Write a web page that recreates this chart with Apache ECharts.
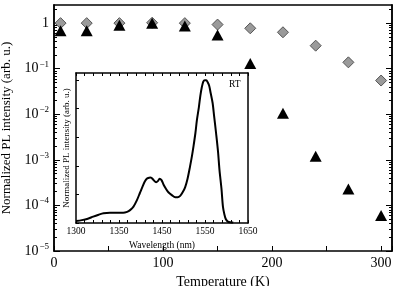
<!DOCTYPE html>
<html>
<head>
<meta charset="utf-8">
<script src="https://cdn.jsdelivr.net/npm/echarts@6/dist/echarts.min.js"></script>
<style>
html, body { margin: 0; padding: 0; background: #fff; }
#chart { width: 396px; height: 286px; }
</style>
</head>
<body>
<div id="chart"></div>
<script>
// main plot: normalized PL intensity vs temperature
var temps = [6, 30, 60, 90, 120, 150, 180, 210, 240, 270, 300];
var diamondVals = [1.0, 1.0, 1.0, 1.02, 1.0, 0.93, 0.77, 0.63, 0.32, 0.138, 0.055];
var triangleVals = [0.68, 0.68, 0.9, 1.0, 0.86, 0.55, 0.13, 0.0105, 0.0012, 0.00023, 0.00006];

// inset: RT spectrum
var wavelengths = [1300, 1312, 1324, 1335, 1346, 1356, 1369, 1382, 1396, 1404, 1410, 1417, 1424, 1430, 1436, 1440, 1444, 1447, 1451, 1454, 1458, 1463, 1467, 1470, 1474, 1478, 1483, 1488, 1495, 1502, 1507, 1512, 1517, 1522, 1527, 1532, 1536, 1539, 1543, 1546, 1550, 1553, 1556, 1559, 1562, 1565, 1568, 1571, 1574, 1578, 1581, 1585, 1589, 1592, 1596, 1599, 1602, 1605, 1609, 1614, 1620];
var spectrum = [0.014, 0.02, 0.03, 0.045, 0.058, 0.068, 0.072, 0.072, 0.072, 0.078, 0.09, 0.115, 0.16, 0.21, 0.26, 0.29, 0.31, 0.315, 0.318, 0.315, 0.3, 0.285, 0.295, 0.31, 0.3, 0.27, 0.24, 0.215, 0.195, 0.18, 0.18, 0.19, 0.215, 0.25, 0.31, 0.395, 0.47, 0.535, 0.63, 0.72, 0.81, 0.89, 0.95, 0.99, 1.0, 1.0, 0.985, 0.96, 0.91, 0.84, 0.75, 0.63, 0.5, 0.37, 0.24, 0.115, 0.06, 0.026, 0.01, 0.005, 0.003];
var insetTickLabels = ['1300', '1350', '1450', '1550', '1650'];

var FONT = 'Liberation Serif';

var decades = [1e-5, 1e-4, 1e-3, 1e-2, 1e-1, 1];
var minorLog = [];
decades.forEach(function (d) {
    for (var k = 2; k <= 9; k++) {
        if (d * k < 2.5) minorLog.push(d * k);
    }
});

var insetLabelVals = [], insetTickVals = [];
for (var i = 0; i <= 20; i++) {
    insetTickVals.push(1300 + 17.5 * i);
    if (i % 5 === 0) insetLabelVals.push(1300 + 17.5 * i);
}

var logLabel = function (v) {
    var e = Math.round(Math.log10(v));
    if (e === 0) return '{b|1}';
    return '{b|10}{s|\u2212' + (-e) + '}';
};

var logAxis = function (pos, ticks, len, showLabel) {
    return {
        type: 'log', gridIndex: 0, position: pos, min: 1e-5, max: 2.5,
        axisLine: {show: true, lineStyle: {color: '#000', width: 1.5}},
        axisTick: {show: true, inside: true, length: len, customValues: ticks, lineStyle: {color: '#000', width: 1}},
        minorTick: {show: false},
        splitLine: {show: false},
        axisLabel: showLabel ? {
            customValues: decades, formatter: logLabel, margin: 5,
            rich: {
                b: {fontFamily: FONT, fontSize: 14, color: '#000'},
                s: {fontFamily: FONT, fontSize: 9, color: '#000', verticalAlign: 'top', padding: [0, 0, 9, 1]}
            }
        } : {show: false}
    };
};

var mainY = logAxis('left', decades, 6, true);
mainY.name = 'Normalized PL intensity (arb. u.)';
mainY.nameLocation = 'middle';
mainY.nameGap = 34;
mainY.nameTextStyle = {fontFamily: FONT, fontSize: 13, color: '#000'};

var chart = echarts.init(document.getElementById('chart'));

chart.setOption({
    animation: false,
    backgroundColor: '#fff',
    grid: [
        {left: 54, top: 5, right: 4, bottom: 35, outerBoundsMode: 'none', containLabel: false},
        {left: 76, top: 73, right: 148, bottom: 63, outerBoundsMode: 'none', containLabel: false,
         show: true, backgroundColor: '#fff', borderWidth: 0}
    ],
    xAxis: [
        {
            type: 'value', gridIndex: 0, min: 0, max: 310, interval: 50, position: 'bottom',
            name: 'Temperature (K)', nameLocation: 'middle', nameGap: 19,
            nameTextStyle: {fontFamily: FONT, fontSize: 14, color: '#000'},
            axisLine: {show: true, onZero: false, lineStyle: {color: '#000', width: 1.5}},
            axisTick: {show: true, inside: true, length: 5, lineStyle: {color: '#000'}},
            splitLine: {show: false},
            axisLabel: {
                fontFamily: FONT, fontSize: 14, color: '#000', margin: 5,
                formatter: function (v) { return v % 100 === 0 ? String(v) : ''; }
            }
        },
        {
            type: 'value', gridIndex: 0, min: 0, max: 310, position: 'top',
            axisLine: {show: true, onZero: false, lineStyle: {color: '#000', width: 1.5}},
            axisTick: {show: false}, axisLabel: {show: false}, splitLine: {show: false}
        },
        {
            type: 'value', gridIndex: 1, min: 1300, max: 1650, position: 'bottom',
            name: 'Wavelength (nm)', nameLocation: 'middle', nameGap: 14,
            nameTextStyle: {fontFamily: FONT, fontSize: 9.5, color: '#000'},
            axisLine: {show: true, onZero: false, lineStyle: {color: '#000', width: 1.5}},
            axisTick: {show: true, inside: true, length: 3, customValues: insetTickVals, lineStyle: {color: '#000'}},
            splitLine: {show: false},
            axisLabel: {
                fontFamily: FONT, fontSize: 9.5, color: '#000', margin: 3,
                customValues: insetLabelVals,
                formatter: function (v) { return insetTickLabels[Math.round((v - 1300) / 87.5)]; }
            }
        },
        {
            type: 'value', gridIndex: 1, min: 1300, max: 1650, position: 'top',
            axisLine: {show: true, onZero: false, lineStyle: {color: '#000', width: 1.5}},
            axisTick: {show: true, inside: true, length: 3, customValues: insetTickVals, lineStyle: {color: '#000'}},
            axisLabel: {show: false}, splitLine: {show: false}
        }
    ],
    yAxis: [
        mainY,
        logAxis('left', minorLog, 3, false),
        logAxis('right', decades, 6, false),
        logAxis('right', minorLog, 3, false),
        {
            type: 'value', gridIndex: 1, min: 0, max: 1.05, position: 'left',
            name: 'Normalized PL intensity (arb. u.)', nameLocation: 'middle', nameGap: 5,
            nameTextStyle: {fontFamily: FONT, fontSize: 9, color: '#000'},
            axisLine: {show: true, onZero: false, lineStyle: {color: '#000', width: 1.5}},
            axisTick: {show: true, inside: true, length: 3, customValues: [0, 0.2, 0.4, 0.6, 0.8, 1.0], lineStyle: {color: '#000'}},
            axisLabel: {show: false}, splitLine: {show: false}
        },
        {
            type: 'value', gridIndex: 1, min: 0, max: 1.05, position: 'right',
            axisLine: {show: true, onZero: false, lineStyle: {color: '#000', width: 1.5}},
            axisTick: {show: false}, axisLabel: {show: false}, splitLine: {show: false}
        }
    ],
    series: [
        {
            type: 'scatter', xAxisIndex: 0, yAxisIndex: 0, symbol: 'diamond', symbolSize: [11, 11],
            itemStyle: {color: '#9a9a9a', borderColor: '#555', borderWidth: 1, opacity: 1},
            data: temps.map(function (t, k) { return [t, diamondVals[k]]; })
        },
        {
            type: 'scatter', xAxisIndex: 0, yAxisIndex: 0, symbol: 'triangle', symbolSize: [12, 11],
            itemStyle: {color: '#000', opacity: 1},
            data: temps.map(function (t, k) { return [t, triangleVals[k]]; })
        },
        {
            type: 'line', xAxisIndex: 2, yAxisIndex: 4, showSymbol: false, smooth: 0.3,
            lineStyle: {color: '#000', width: 2},
            data: wavelengths.map(function (w, k) { return [w, spectrum[k]]; })
        }
    ],
    graphic: [
        {type: 'text', left: 229, top: 79, style: {text: 'RT', fontFamily: FONT, fontSize: 9.5, fill: '#000'}}
    ]
});
</script>
</body>
</html>
